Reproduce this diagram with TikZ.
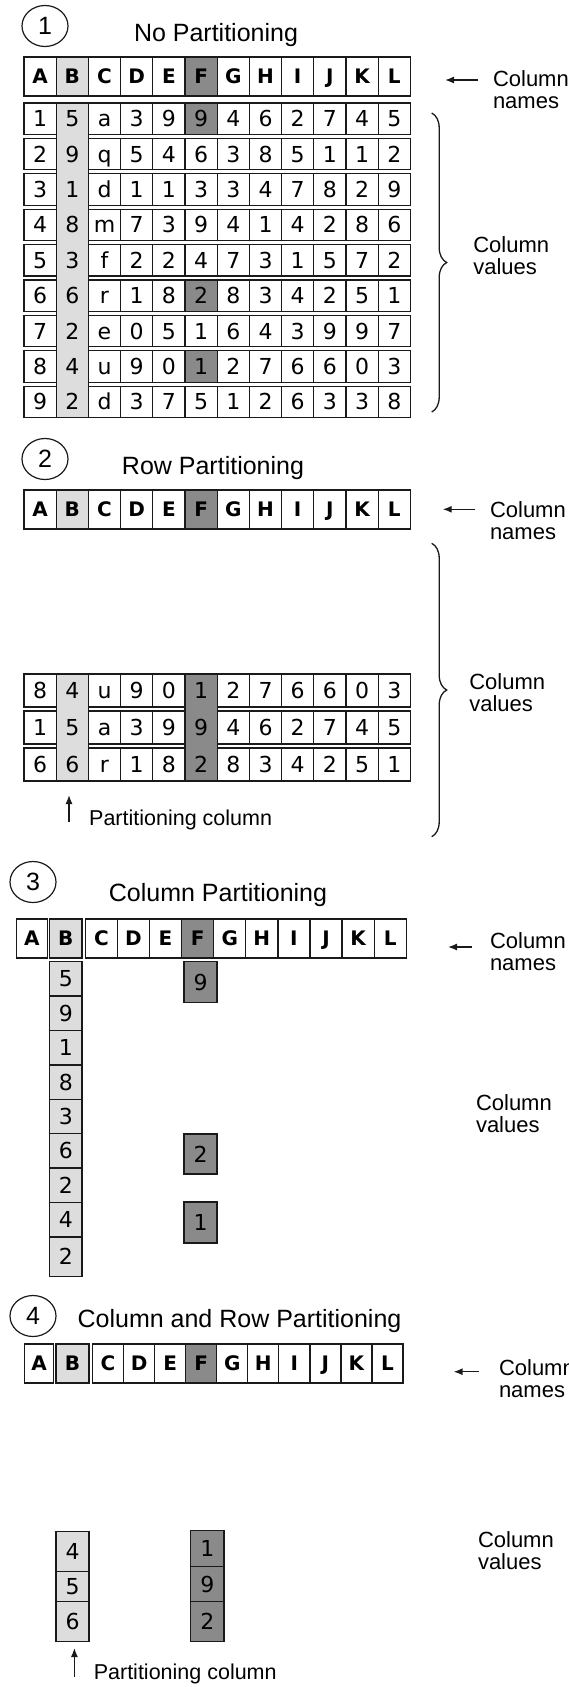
\documentclass[tikz,border=0pt]{standalone}
\usepackage{fontspec}
\setmainfont{Liberation Sans}
\newfontfamily\cellfont{DejaVu Sans}
\usetikzlibrary{shapes.geometric,arrows.meta,decorations.pathreplacing}
\definecolor{lightB}{HTML}{DDDDDD}
\definecolor{darkF}{HTML}{8A8A8A}
\definecolor{ink}{HTML}{1A1A1A}

\tikzset{
  base/.style={inner sep=0pt, outer sep=0pt, anchor=north west},
  hdr/.style={base, draw=ink, line width=1.3pt, fill=white, minimum width=32.2pt,
    minimum height=39pt, text height=14.6pt, text depth=0pt,
    font=\cellfont\bfseries\fontsize{20}{20}\selectfont},
  hdrB/.style={hdr, fill=lightB},
  hdrF/.style={hdr, fill=darkF},
  val/.style={base, draw=ink, line width=1.3pt, fill=white, minimum width=32.2pt,
    text height=16pt, text depth=0pt, font=\cellfont\fontsize{22}{22}\selectfont},
  valF/.style={val, fill=darkF},
  valtxt/.style={base, minimum width=32.2pt, text height=16pt, text depth=0pt,
    font=\cellfont\fontsize{22}{22}\selectfont},
  band/.style={base, draw=ink, line width=1.3pt, minimum width=32.2pt},
  circnum/.style={ellipse, draw=ink, line width=1.2pt, minimum width=46pt,
    minimum height=41pt, inner sep=0pt, font=\fontsize{25}{25}\selectfont},
  title/.style={inner sep=0pt, font=\fontsize{25}{25}\selectfont},
  lab/.style={base, align=left, font=\fontsize{22}{22}\selectfont},
  arr/.style={-{Latex[length=9pt,width=7pt]}, line width=1.3pt, draw=ink},
  brc/.style={decorate, decoration={brace, amplitude=15pt}, line width=1.3pt, draw=ink},
}

% one header row of twelve joined cells: #1 prefix, #2 top
\newcommand\joinedheader[2]{%
  \foreach \L/\s [count=\i from 0] in {A/hdr,B/hdrB,C/hdr,D/hdr,E/hdr,F/hdrF,G/hdr,H/hdr,I/hdr,J/hdr,K/hdr,L/hdr}
    {\node[\s] (#1-\L) at (24+\i*32.2, #2) {\L};}}

% one data row: #1 prefix, #2 top, #3 height, #4 values, #5 style of column F
\newcommand\tabrow[5]{%
  \foreach \v [count=\i from 0] in {#4} {%
    \ifnum\i=1
      \node[valtxt, minimum height=#3] (#1-\i) at (24+\i*32.2, #2) {\v};
    \else\ifnum\i=5
      \node[#5, minimum height=#3] (#1-\i) at (24+\i*32.2, #2) {\v};
    \else
      \node[val, minimum height=#3] (#1-\i) at (24+\i*32.2, #2) {\v};
    \fi\fi}}

\begin{document}
\begin{tikzpicture}[x=1pt, y=-1pt]
\useasboundingbox (0,0) rectangle (569,1687);

% ---------------- 1: no partitioning ----------------
\node[circnum] (c1) at (45,26) {1};
\node[title] (t1) at (216,35) {No Partitioning};
\joinedheader{h1}{57}
\node[band, fill=lightB, minimum height=314.6pt] (b1) at (56.2,103) {};
\tabrow{r1}{103}{31.4pt}{1,5,a,3,9,9,4,6,2,7,4,5}{valF}
\tabrow{r2}{138.4}{31.4pt}{2,9,q,5,4,6,3,8,5,1,1,2}{val}
\tabrow{r3}{173.8}{31.4pt}{3,1,d,1,1,3,3,4,7,8,2,9}{val}
\tabrow{r4}{209.2}{31.4pt}{4,8,m,7,3,9,4,1,4,2,8,6}{val}
\tabrow{r5}{244.6}{31.4pt}{5,3,f,2,2,4,7,3,1,5,7,2}{val}
\tabrow{r6}{280}{31.4pt}{6,6,r,1,8,2,8,3,4,2,5,1}{valF}
\tabrow{r7}{315.4}{31.4pt}{7,2,e,0,5,1,6,4,3,9,9,7}{val}
\tabrow{r8}{350.8}{31.4pt}{8,4,u,9,0,1,2,7,6,6,0,3}{valF}
\tabrow{r9}{386.2}{31.4pt}{9,2,d,3,7,5,1,2,6,3,3,8}{val}
\coordinate (a1s) at (478,80);
\coordinate (a1e) at (445,80);
\draw[arr] (a1s) -- (a1e);
\node[lab] (n1) at (493,70.7) {Column\\names};
\coordinate (br1t) at (431.7,113);
\coordinate (br1b) at (431.7,412);
\draw[brc] (br1t) -- (br1b);
\node[lab] (v1) at (473.3,237) {Column\\values};

% ---------------- 2: row partitioning ----------------
\node[circnum] (c2) at (45,459) {2};
\node[title] (t2) at (213,468) {Row Partitioning};
\joinedheader{h2}{490}
\node[band, fill=lightB, minimum height=107pt] (b2) at (56.2,674) {};
\node[band, fill=darkF, minimum height=107pt] (f2) at (185,674) {};
\tabrow{s1}{674}{33pt}{8,4,u,9,0,1,2,7,6,6,0,3}{valtxt}
\tabrow{s2}{711}{33pt}{1,5,a,3,9,9,4,6,2,7,4,5}{valtxt}
\tabrow{s3}{748}{33pt}{6,6,r,1,8,2,8,3,4,2,5,1}{valtxt}
\coordinate (a2s) at (475.3,509.3);
\coordinate (a2e) at (442.7,509.3);
\draw[arr] (a2s) -- (a2e);
\node[lab] (n2) at (490,502) {Column\\names};
\coordinate (br2t) at (431.7,543.3);
\coordinate (br2b) at (431.7,836.7);
\draw[brc] (br2t) -- (br2b);
\node[lab] (v2) at (469.3,674) {Column\\values};
\coordinate (u2s) at (69,822);
\coordinate (u2e) at (69,795);
\draw[arr] (u2s) -- (u2e);
\node[title, anchor=west, font=\fontsize{21.5}{21.5}\selectfont] (p2) at (89,820) {Partitioning column};

% ---------------- 3: column partitioning ----------------
\node[circnum] (c3) at (33,882) {3};
\node[title] (t3) at (218,895) {Column Partitioning};
\node[hdr, minimum width=31pt] (h3-A) at (16.3,919) {A};
\node[hdrB] (h3-B) at (49.7,919) {B};
\foreach \L/\s [count=\i from 0] in {C/hdr,D/hdr,E/hdr,F/hdrF,G/hdr,H/hdr,I/hdr,J/hdr,K/hdr,L/hdr}
  {\node[\s, minimum width=32.1pt] (h3-\L) at (85.3+\i*32.1, 919) {\L};}
\foreach \v [count=\k from 0] in {5,9,1,8,3,6,2,4}
  {\node[val, fill=lightB, minimum height=34.4pt] (cb3-\k) at (49.7, 961.7+\k*34.4) {\v};}
\node[val, fill=lightB, minimum height=39.8pt] (cb3-8) at (49.7,1236.9) {2};
\node[valF, minimum width=33pt, minimum height=41pt] (cf3-0) at (184,961.7) {9};
\node[valF, minimum width=33pt, minimum height=40pt] (cf3-5) at (184,1134) {2};
\node[valF, minimum width=33pt, minimum height=41pt] (cf3-7) at (184,1202) {1};
\coordinate (a3s) at (472,947);
\coordinate (a3e) at (448,947);
\draw[arr] (a3s) -- (a3e);
\node[lab] (n3) at (490,933) {Column\\names};
\node[lab] (v3) at (476,1094.5) {Column\\values};

% ---------------- 4: column and row partitioning ----------------
\node[circnum] (c4) at (33,1316) {4};
\node[title] (t4) at (239.5,1321) {Column and Row Partitioning};
\node[hdr, minimum width=29pt] (h4-A) at (24.7,1344) {A};
\node[hdrB, minimum width=33pt] (h4-B) at (56,1344) {B};
\foreach \L/\s [count=\i from 0] in {C/hdr,D/hdr,E/hdr,F/hdrF,G/hdr,H/hdr,I/hdr,J/hdr,K/hdr,L/hdr}
  {\node[\s, minimum width=31.05pt] (h4-\L) at (92.5+\i*31.05, 1344) {\L};}
\node[val, fill=lightB, minimum width=33pt, minimum height=40pt] (cb4-0) at (56,1531.7) {4};
\node[val, fill=lightB, minimum width=33pt, minimum height=30pt] (cb4-1) at (56,1571.7) {5};
\node[val, fill=lightB, minimum width=33pt, minimum height=40pt] (cb4-2) at (56,1601.7) {6};
\node[valF, minimum width=33.5pt, minimum height=36pt] (cf4-0) at (190.5,1530.7) {1};
\node[valF, minimum width=33.5pt, minimum height=35pt] (cf4-1) at (190.5,1566.7) {9};
\node[valF, minimum width=33.5pt, minimum height=40pt] (cf4-2) at (190.5,1601.7) {2};
\coordinate (a4s) at (479,1371.7);
\coordinate (a4e) at (453.6,1371.7);
\draw[arr] (a4s) -- (a4e);
\node[lab] (n4) at (499,1360) {Column\\names};
\node[lab] (v4) at (478,1532) {Column\\values};
\coordinate (u4s) at (74.4,1677);
\coordinate (u4e) at (74.4,1648);
\draw[arr] (u4s) -- (u4e);
\node[title, anchor=west, font=\fontsize{21.5}{21.5}\selectfont] (p4) at (93.6,1674) {Partitioning column};
\end{tikzpicture}
\end{document}
